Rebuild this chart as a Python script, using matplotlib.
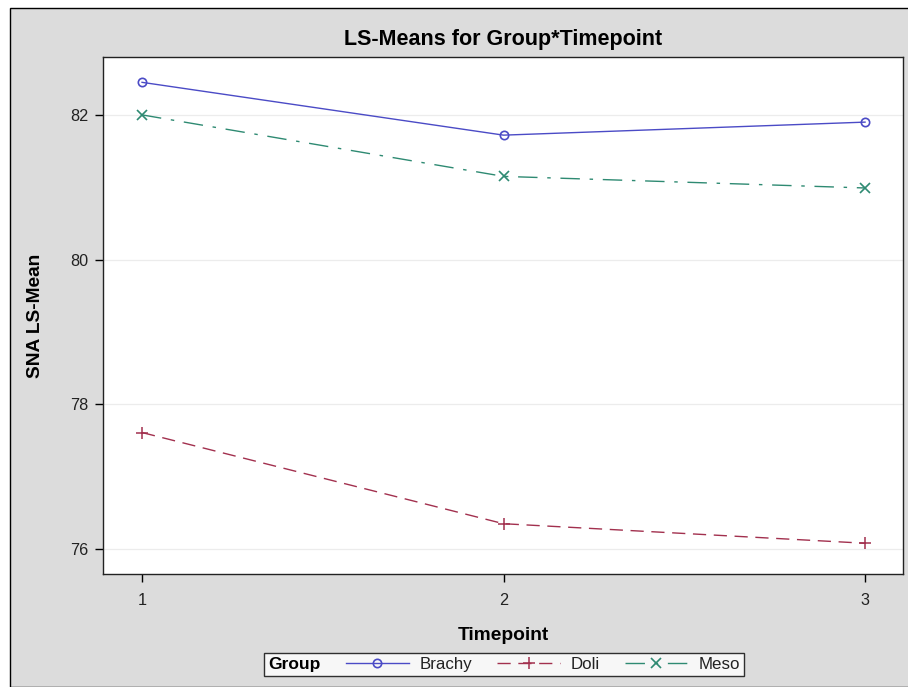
import matplotlib
matplotlib.use("Agg")
import matplotlib.pyplot as plt
from matplotlib.patches import Rectangle

plt.rcParams['font.family'] = ['Liberation Sans', 'DejaVu Sans']

timepoints = [1, 2, 3]
groups = ["Brachy", "Doli", "Meso"]
brachy = [82.45, 81.72, 81.90]
doli = [77.61, 76.35, 76.08]
meso = [82.00, 81.15, 80.99]
yticks = [76, 78, 80, 82]

fig = plt.figure(figsize=(9.08, 6.87), dpi=100, facecolor='white')
W, H = 908, 687
# gray background panel with black frame
fig.add_artist(Rectangle((10 / W, 0), 1.0, 1 - 8 / H, transform=fig.transFigure,
                         facecolor='#dcdcdc', edgecolor='black', linewidth=1.0, zorder=-10))

ax = fig.add_axes([103 / W, (H - 574) / H, 800 / W, 517 / H])
ax.set_facecolor('white')

styles = {
    "Brachy": dict(color='#4b4bc6', linestyle='-', marker='o', mfc='none', ms=6, mew=1.2),
    "Doli": dict(color='#a2304e', linestyle=(0, (9.5, 5.5)), marker='+', ms=8, mew=1.1),
    "Meso": dict(color='#2e8a72', linestyle=(0, (14, 7, 2.5, 7)), marker='x', ms=7, mew=1.2),
}
series = {"Brachy": brachy, "Doli": doli, "Meso": meso}
handles = []
for g in groups:
    h, = ax.plot(timepoints, series[g], lw=1.0, label=g, **styles[g])
    handles.append(h)

ax.set_xlim(0.892, 3.105)
ax.set_ylim(75.655, 82.8)
ax.set_xticks(timepoints)
ax.set_xticklabels([str(t) for t in timepoints])
ax.set_yticks(yticks)
ax.set_yticklabels([str(v) for v in yticks])
ax.yaxis.grid(True, color='#ececec', linewidth=0.9)
ax.set_axisbelow(True)
ax.tick_params(axis='both', direction='out', length=5.5, width=1, labelsize=11.7,
               colors='black', labelcolor='#222222')
ax.tick_params(axis='x', pad=8)
ax.tick_params(axis='y', pad=5)
for s in ax.spines.values():
    s.set_linewidth(1.0)
    s.set_color('#222222')

ax.set_title("LS-Means for Group*Timepoint", fontsize=15.5, fontweight='bold', pad=9)
ax.set_xlabel("Timepoint", fontsize=13.8, fontweight='bold', labelpad=14)
ax.set_ylabel("SNA LS-Mean", fontsize=13.8, fontweight='bold', labelpad=19)

leg = fig.legend(handles=handles, labels=groups, title="Group", ncol=3,
                 loc='center', bbox_to_anchor=(504 / W, (H - 664.5) / H),
                 frameon=True, fancybox=False, edgecolor='black', facecolor='white',
                 fontsize=12.2, title_fontproperties={'weight': 'bold', 'size': 12.5},
                 handlelength=3.75, handletextpad=0.59, columnspacing=0.75,
                 borderpad=0.25, borderaxespad=0)
leg.get_frame().set_linewidth(1.0)
for t in leg.get_texts():
    t.set_color('#222222')
# put the title to the left of the entries
c = leg.get_children()[0]
title_box = c.get_children()[0]
hpack = c.get_children()[1]
c._children = [hpack]
hpack._children = [title_box] + hpack.get_children()
hpack.sep = 18

fig.savefig("out.png", dpi=100, facecolor=fig.get_facecolor())
